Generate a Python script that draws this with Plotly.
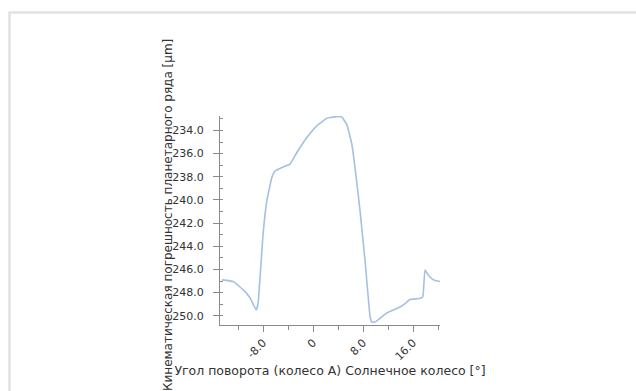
import plotly.graph_objects as go

# Angle of rotation (wheel A, sun gear), degrees
angle_deg = [-14.6, -12.8, -11.2, -10.1, -9.1, -8.8, -8.0, -7.4, -6.6, -6.1, -5.0,
             -3.7, -2.6, -1.0, 0.6, 2.2, 3.8, 4.6, 5.4, 6.2, 6.7, 7.5, 8.3, 9.1,
             9.4, 9.9, 11.8, 13.9, 14.7, 15.5, 17.1, 17.55, 17.9, 18.45, 19.25, 20.3]
# Kinematic error of the planetary stage, µm
error_um = [246.9, 247.05, 247.75, 248.45, 249.5, 248.9, 242.9, 240.05, 238.05, 237.5,
            237.2, 236.9, 235.9, 234.6, 233.6, 232.95, 232.8, 232.85, 233.5, 235.2,
            237.2, 240.9, 245.2, 250.0, 250.55, 250.55, 249.75, 249.25, 248.95, 248.6,
            248.5, 248.35, 246.05, 246.5, 246.9, 247.05]

x_tickvals = [-8, 0, 8, 16]
x_ticktext = ["-8.0", "0", "8.0", "16.0"]
y_tickvals = [234, 236, 238, 240, 242, 244, 246, 248, 250]
y_ticktext = ["234.0", "236.0", "238.0", "240.0", "242.0", "244.0", "246.0", "248.0", "250.0"]

FONT = "DejaVu Sans"
TXT = "#333333"
AX = "#8a8a8a"

fig = go.Figure(go.Scatter(
    x=angle_deg, y=error_um, mode="lines",
    line=dict(color="#a6bfe2", width=1.6, shape="spline", smoothing=0.3),
    hoverinfo="skip", showlegend=False,
))

fig.update_xaxes(
    range=[-14.9, 20.3], showgrid=False, zeroline=False,
    showline=True, linecolor=AX, linewidth=1,
    tickvals=x_tickvals, ticktext=x_ticktext, tickangle=-45,
    ticks="outside", ticklen=6, tickcolor=AX,
    minor=dict(dtick=4, tick0=0, ticks="outside", ticklen=4, tickcolor=AX),
    tickfont=dict(family=FONT, size=11, color=TXT),
    title=dict(text="Угол поворота (колесо A) Солнечное колесо [°]",
               font=dict(family=FONT, size=12.5, color=TXT), standoff=1),
)
fig.update_yaxes(
    range=[250.8, 232.75], showgrid=False, zeroline=False,
    showline=True, linecolor=AX, linewidth=1,
    tickvals=y_tickvals, ticktext=y_ticktext,
    ticks="outside", ticklen=6, tickcolor=AX, ticklabelstandoff=7,
    minor=dict(dtick=1, tick0=0, ticks="inside", ticklen=3, tickcolor=AX),
    tickfont=dict(family=FONT, size=11, color=TXT),
)

fig.update_layout(
    width=636, height=391,
    margin=dict(l=220, r=196, t=116, b=66),
    paper_bgcolor="white", plot_bgcolor="white",
    font=dict(family=FONT, size=11, color=TXT),
    annotations=[dict(
        text="Кинематическая погрешность планетарного ряда [µm]",
        textangle=-90, xref="paper", yref="paper",
        x=(168 - 220) / 220, y=(325 - 215) / 209, xanchor="center", yanchor="middle",
        showarrow=False, font=dict(family=FONT, size=12, color=TXT),
    )],
    shapes=[dict(
        type="rect", xref="paper", yref="paper",
        x0=(9.5 - 220) / 220, x1=(660 - 220) / 220,
        y0=(325 - 420) / 209, y1=(325 - 12.5) / 209,
        line=dict(color="#e2e2e2", width=2.5), fillcolor="rgba(0,0,0,0)",
        layer="below",
    )],
)

fig.write_html("out.html")
